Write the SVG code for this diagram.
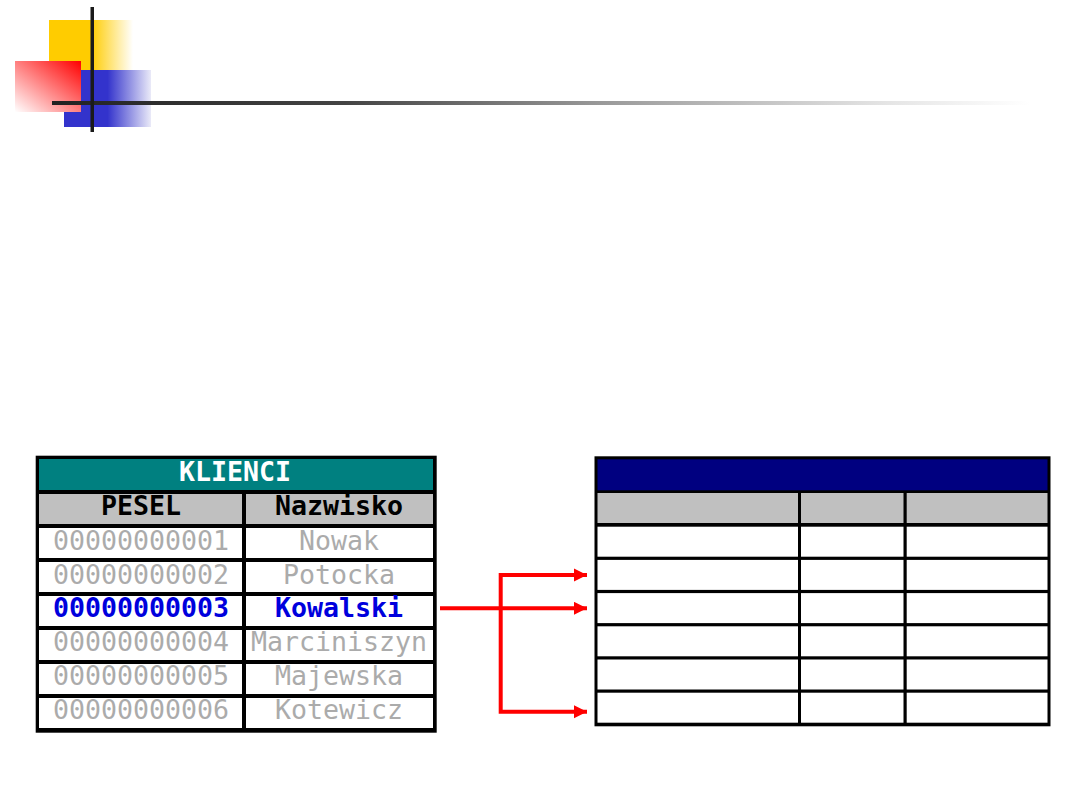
<svg xmlns="http://www.w3.org/2000/svg" width="1080" height="810" viewBox="0 0 1080 810">
<style>
.t{font-family:"DejaVu Sans Mono","Liberation Mono",monospace;font-size:26.6px;text-anchor:middle}
.b{font-weight:bold}
.g{fill:#ababab}
.blk{fill:#000}
.w{fill:#fff}
.gr{fill:#c0c0c0}
.conn{stroke:#ff0000;stroke-width:4;fill:none}
</style>
<defs>
<linearGradient id="gy" x1="0" y1="0" x2="1" y2="0"><stop offset="0.5" stop-color="#ffcc00"/><stop offset="1" stop-color="#ffffff"/></linearGradient>
<linearGradient id="gb" x1="0" y1="0" x2="1" y2="0"><stop offset="0.5" stop-color="#3333cc"/><stop offset="1" stop-color="#eaeaf8"/></linearGradient>
<linearGradient id="gr" x1="1" y1="0" x2="0" y2="1"><stop offset="0" stop-color="#ff0000"/><stop offset="1" stop-color="#ffffff"/></linearGradient>
<linearGradient id="gl" x1="0" y1="0" x2="1" y2="0"><stop offset="0" stop-color="#222"/><stop offset="0.3" stop-color="#444"/><stop offset="0.56" stop-color="#999"/><stop offset="0.85" stop-color="#e4e4e4"/><stop offset="1" stop-color="#fff"/></linearGradient>
<marker id="ah" markerWidth="13" markerHeight="13" refX="13" refY="6.5" orient="auto" markerUnits="userSpaceOnUse"><path d="M0,0 L13,6.5 L0,13 Z" fill="#ff0000"/></marker>
</defs>
<rect width="1080" height="810" fill="#fff"/>
<g id="logo">
<rect x="49" y="20" width="84" height="52" fill="url(#gy)"/>
<rect x="64" y="70" width="87" height="57" fill="url(#gb)"/>
<rect x="15" y="61" width="66" height="51" fill="url(#gr)"/>
<rect x="52" y="101" width="978" height="4" fill="url(#gl)"/>
<rect x="90.5" y="7" width="3.5" height="125" fill="#1a1a1a"/>
</g>
<g id="klienci">
<rect x="35.7" y="455.7" width="401" height="277" class="blk"/>
<rect x="39" y="459" width="394" height="31" fill="#008080"/>
<text x="235" y="481" class="t b w">KLIENCI</text>
<rect x="39" y="494" width="203" height="30" class="gr"/>
<rect x="246" y="494" width="187" height="30" class="gr"/>
<text x="141" y="515" class="t b">PESEL</text>
<text x="339" y="515" class="t b">Nazwisko</text>
<rect x="39" y="528" width="203" height="30" class="w"/><rect x="246" y="528" width="187" height="30" class="w"/>
<rect x="39" y="562" width="203" height="30" class="w"/><rect x="246" y="562" width="187" height="30" class="w"/>
<rect x="39" y="596" width="203" height="30" class="w"/><rect x="246" y="596" width="187" height="30" class="w"/>
<rect x="39" y="630" width="203" height="30" class="w"/><rect x="246" y="630" width="187" height="30" class="w"/>
<rect x="39" y="664" width="203" height="30" class="w"/><rect x="246" y="664" width="187" height="30" class="w"/>
<rect x="39" y="698" width="203" height="30" class="w"/><rect x="246" y="698" width="187" height="30" class="w"/>
<text x="141" y="550" class="t g">00000000001</text><text x="339" y="550" class="t g">Nowak</text>
<text x="141" y="584" class="t g">00000000002</text><text x="339" y="584" class="t g">Potocka</text>
<text x="141" y="617" class="t b" fill="#0000dd">00000000003</text><text x="339" y="617" class="t b" fill="#0000dd">Kowalski</text>
<text x="141" y="651" class="t g">00000000004</text><text x="339" y="651" class="t g">Marciniszyn</text>
<text x="141" y="685" class="t g">00000000005</text><text x="339" y="685" class="t g">Majewska</text>
<text x="141" y="719" class="t g">00000000006</text><text x="339" y="719" class="t g">Kotewicz</text>
</g>
<g id="target">
<rect x="594.5" y="456.3" width="456" height="270" class="blk"/>
<rect x="597.5" y="459.3" width="450" height="31" fill="#000080"/>
<rect x="597.5" y="493" width="200.5" height="30" class="gr"/><rect x="801" y="493" width="102.5" height="30" class="gr"/><rect x="906.7" y="493" width="140.8" height="30" class="gr"/>
<rect x="597.5" y="526.7" width="200.5" height="30" class="w"/><rect x="801" y="526.7" width="102.5" height="30" class="w"/><rect x="906.7" y="526.7" width="140.8" height="30" class="w"/>
<rect x="597.5" y="559.9" width="200.5" height="30" class="w"/><rect x="801" y="559.9" width="102.5" height="30" class="w"/><rect x="906.7" y="559.9" width="140.8" height="30" class="w"/>
<rect x="597.5" y="593.1" width="200.5" height="30" class="w"/><rect x="801" y="593.1" width="102.5" height="30" class="w"/><rect x="906.7" y="593.1" width="140.8" height="30" class="w"/>
<rect x="597.5" y="626.3" width="200.5" height="30" class="w"/><rect x="801" y="626.3" width="102.5" height="30" class="w"/><rect x="906.7" y="626.3" width="140.8" height="30" class="w"/>
<rect x="597.5" y="659.5" width="200.5" height="30" class="w"/><rect x="801" y="659.5" width="102.5" height="30" class="w"/><rect x="906.7" y="659.5" width="140.8" height="30" class="w"/>
<rect x="597.5" y="692.7" width="200.5" height="30" class="w"/><rect x="801" y="692.7" width="102.5" height="30" class="w"/><rect x="906.7" y="692.7" width="140.8" height="30" class="w"/>
</g>
<g id="connectors">
<line x1="440" y1="608.3" x2="587" y2="608.3" class="conn" marker-end="url(#ah)"/>
<polyline points="587,575 500.7,575 500.7,711.7 587,711.7" class="conn"/>
<path d="M574,568.5 L587,575 L574,581.5 Z" fill="#ff0000"/>
<path d="M574,705.2 L587,711.7 L574,718.2 Z" fill="#ff0000"/>
</g>
</svg>
